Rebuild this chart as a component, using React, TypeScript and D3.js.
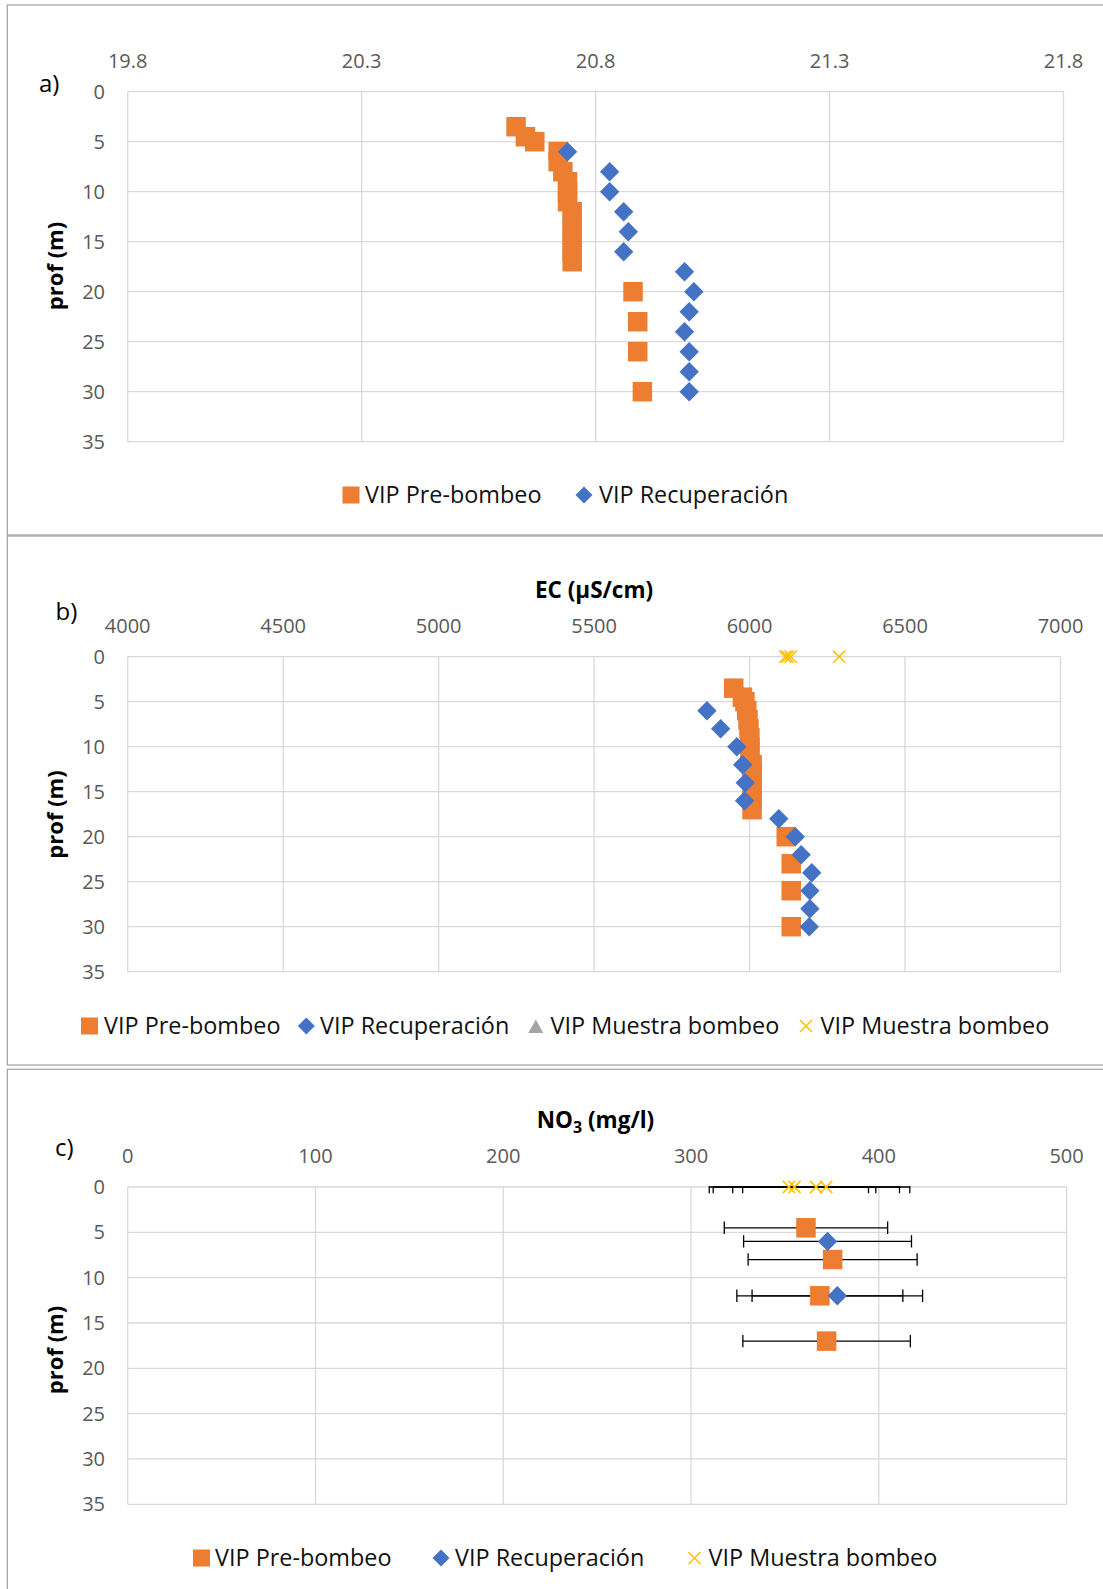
import React from "react";
import * as d3 from "d3";

// ---------- DATA ----------
const depthTicks = [0, 5, 10, 15, 20, 25, 30, 35];

// a) temperature
const tempTicks = [19.8, 20.3, 20.8, 21.3, 21.8];
const tempPreDepth = [3.5, 4.5, 5, 6, 7, 8, 9, 10, 11, 12, 13, 14, 15, 16, 17, 20, 23, 26, 30];
const tempPreValue = [20.63, 20.65, 20.67, 20.72, 20.72, 20.73, 20.74, 20.74, 20.74, 20.75, 20.75, 20.75, 20.75, 20.75, 20.75, 20.88, 20.89, 20.89, 20.9];
const tempRecDepth = [6, 8, 10, 12, 14, 16, 18, 20, 22, 24, 26, 28, 30];
const tempRecValue = [20.74, 20.83, 20.83, 20.86, 20.87, 20.86, 20.99, 21.01, 21.0, 20.99, 21.0, 21.0, 21.0];

// b) electrical conductivity
const ecTicks = [4000, 4500, 5000, 5500, 6000, 6500, 7000];
const ecPreDepth = [3.5, 4.5, 5, 6, 7, 8, 9, 10, 11, 12, 13, 14, 15, 16, 17, 20, 23, 26, 30];
const ecPreValue = [5949, 5977, 5985, 5991, 5995, 5998, 6001, 6001, 6001, 6008, 6008, 6008, 6008, 6008, 6008, 6118, 6134, 6134, 6134];
const ecRecDepth = [6, 8, 10, 12, 14, 16, 18, 20, 22, 24, 26, 28, 30];
const ecRecValue = [5863, 5907, 5959, 5978, 5986, 5984, 6094, 6147, 6166, 6200, 6194, 6194, 6192];
const ecMuesTriDepth: number[] = [];
const ecMuesTriValue: number[] = [];
const ecMuesDepth = [0, 0, 0, 0];
const ecMuesValue = [6115, 6122, 6132, 6288];

// c) nitrate
const no3Ticks = [0, 100, 200, 300, 400, 500];
const no3PreDepth = [4.5, 8, 12, 17];
const no3PreValue = [361.2, 375.4, 368.6, 372.2];
const no3PreErr = [43.5, 45.0, 44.2, 44.6];
const no3RecDepth = [6, 12];
const no3RecValue = [372.7, 377.9];
const no3RecErr = [44.7, 45.4];
const no3MuesDepth = [0, 0, 0, 0];
const no3MuesValue = [352.1, 355.1, 366.6, 372.0];
const no3MuesErr = [42.4, 43.3, 44.4, 44.5];

const legendA = ["VIP Pre-bombeo", "VIP Recuperación"];
const legendB = ["VIP Pre-bombeo", "VIP Recuperación", "VIP Muestra bombeo", "VIP Muestra bombeo"];
const legendC = ["VIP Pre-bombeo", "VIP Recuperación", "VIP Muestra bombeo"];

// ---------- STYLE ----------
const ORANGE = "#ED7D31";
const BLUE = "#4472C4";
const GRAY = "#A5A5A5";
const YELLOW = "#FFC000";
const GRID = "#D9D9D9";
const TICK = "#595959";
const FONT = "'Open Sans', 'Noto Sans', 'DejaVu Sans', sans-serif";

const Square = ({ x, y, s, c }: any) => <rect x={x - s / 2} y={y - s / 2} width={s} height={s} fill={c} />;
const Diamond = ({ x, y, r, c }: any) => (
  <path d={`M${x},${y - r}L${x + r},${y}L${x},${y + r}L${x - r},${y}Z`} fill={c} />
);
const Cross = ({ x, y, r, c }: any) => (
  <path d={`M${x - r},${y - r}L${x + r},${y + r}M${x - r},${y + r}L${x + r},${y - r}`} stroke={c} strokeWidth={1.5} fill="none" />
);
const Triangle = ({ x, y, r, c }: any) => (
  <path d={`M${x},${y - r}L${x + r},${y + r * 0.8}L${x - r},${y + r * 0.8}Z`} fill={c} />
);

function Grid({ xs, ys, xTicks, fmt, xLabY }: any) {
  const [x0, x1] = xs.range();
  const [y0, y1] = ys.range();
  return (
    <g>
      {depthTicks.map((t) => (
        <line key={"h" + t} x1={x0} x2={x1} y1={ys(t)} y2={ys(t)} stroke={GRID} strokeWidth={1.3} />
      ))}
      {xTicks.map((t: number) => (
        <line key={"v" + t} x1={xs(t)} x2={xs(t)} y1={y0} y2={y1} stroke={GRID} strokeWidth={1.3} />
      ))}
      {xTicks.map((t: number) => (
        <text key={"xt" + t} x={xs(t)} y={xLabY} textAnchor="middle" fontSize={20} fill={TICK} fontFamily={FONT}>
          {fmt(t)}
        </text>
      ))}
      {depthTicks.map((t) => (
        <text key={"yt" + t} x={105} y={ys(t) + 7} textAnchor="end" fontSize={20} fill={TICK} fontFamily={FONT}>
          {t}
        </text>
      ))}
    </g>
  );
}

function ProfLabel({ cy }: any) {
  return (
    <text
      transform={`translate(63,${cy}) rotate(-90)`}
      textAnchor="middle"
      fontSize={22}
      fontWeight="bold"
      fontFamily={FONT}
      fill="#000"
    >
      prof (m)
    </text>
  );
}

export default function App() {
  // panel a
  const xa = d3.scaleLinear().domain([19.8, 21.8]).range([127.7, 1063.5]);
  const ya = d3.scaleLinear().domain([0, 35]).range([91.7, 441.7]);
  // panel b
  const xb = d3.scaleLinear().domain([4000, 7000]).range([127.7, 1060.5]);
  const yb = d3.scaleLinear().domain([0, 35]).range([656.7, 971.7]);
  // panel c
  const xc = d3.scaleLinear().domain([0, 500]).range([127.7, 1066.6]);
  const yc = d3.scaleLinear().domain([0, 35]).range([1187, 1504.3]);

  const f1 = d3.format(".1f");
  const f0 = d3.format("d");
  const SQ = 19.5;
  const DR = 9.7;
  const legText = { fontSize: 23.4, fontFamily: FONT, fill: "#111" } as any;

  const errBars = (vals: number[], deps: number[], errs: number[], key: string) =>
    vals.map((v, i) => {
      const y = yc(deps[i]);
      const xl = xc(v - errs[i]);
      const xr = xc(v + errs[i]);
      return (
        <g key={key + i}>
          <line x1={xl} x2={xr} y1={y} y2={y} stroke="#000" strokeWidth={1.3} />
          <line x1={xl} x2={xl} y1={y - 6.2} y2={y + 6.2} stroke="#000" strokeWidth={1.3} />
          <line x1={xr} x2={xr} y1={y - 6.2} y2={y + 6.2} stroke="#000" strokeWidth={1.3} />
        </g>
      );
    });

  return (
    <svg
      width={1103}
      height={1589}
      style={{ position: "absolute", left: 0, top: 0, background: "#fff" }}
      xmlns="http://www.w3.org/2000/svg"
    >
      <rect x={0} y={0} width={1103} height={1589} fill="#fff" />
      <defs>
        <clipPath id="clipC">
          <rect x={127} y={1186} width={940.5} height={320} />
        </clipPath>
      </defs>

      {/* panel frames */}
      <rect x={7.3} y={5} width={1200} height={530} fill="none" stroke="#A6A6A6" strokeWidth={1.3} />
      <rect x={7.3} y={536} width={1200} height={529} fill="none" stroke="#A6A6A6" strokeWidth={1.3} />
      <rect x={7.3} y={1069.3} width={1200} height={700} fill="none" stroke="#A6A6A6" strokeWidth={1.3} />

      {/* ---------- a) ---------- */}
      <text x={39} y={92} fontSize={24} fontFamily={FONT} fill="#000">a)</text>
      <Grid xs={xa} ys={ya} xTicks={tempTicks} fmt={f1} xLabY={68.3} />
      <ProfLabel cy={266} />
      {tempPreValue.map((v, i) => (
        <Square key={"ap" + i} x={xa(v)} y={ya(tempPreDepth[i])} s={SQ} c={ORANGE} />
      ))}
      {tempRecValue.map((v, i) => (
        <Diamond key={"ar" + i} x={xa(v)} y={ya(tempRecDepth[i])} r={DR} c={BLUE} />
      ))}
      <Square x={351} y={495} s={17} c={ORANGE} />
      <text x={365} y={503.3} {...legText}>{legendA[0]}</text>
      <Diamond x={584} y={495} r={8.5} c={BLUE} />
      <text x={599} y={503.3} {...legText}>{legendA[1]}</text>

      {/* ---------- b) ---------- */}
      <text x={55.5} y={620} fontSize={24} fontFamily={FONT} fill="#000">b)</text>
      <text x={594} y={598.3} textAnchor="middle" fontSize={22.5} fontWeight="bold" fontFamily={FONT} fill="#000">
        EC (µS/cm)
      </text>
      <Grid xs={xb} ys={yb} xTicks={ecTicks} fmt={f0} xLabY={632.7} />
      <ProfLabel cy={814.5} />
      {ecPreValue.map((v, i) => (
        <Square key={"bp" + i} x={xb(v)} y={yb(ecPreDepth[i])} s={SQ} c={ORANGE} />
      ))}
      {ecRecValue.map((v, i) => (
        <Diamond key={"br" + i} x={xb(v)} y={yb(ecRecDepth[i])} r={DR} c={BLUE} />
      ))}
      {ecMuesTriValue.map((v, i) => (
        <Triangle key={"bt" + i} x={xb(v)} y={yb(ecMuesTriDepth[i])} r={8} c={GRAY} />
      ))}
      {ecMuesValue.map((v, i) => (
        <Cross key={"bm" + i} x={xb(v)} y={yb(ecMuesDepth[i])} r={6.1} c={YELLOW} />
      ))}
      <Square x={89.5} y={1026} s={17} c={ORANGE} />
      <text x={104} y={1034.3} {...legText}>{legendB[0]}</text>
      <Diamond x={306.3} y={1026} r={8.5} c={BLUE} />
      <text x={320} y={1034.3} {...legText}>{legendB[1]}</text>
      <Triangle x={535.8} y={1027} r={7.5} c={GRAY} />
      <text x={550.5} y={1034.3} {...legText}>{legendB[2]}</text>
      <Cross x={806} y={1026} r={6} c={YELLOW} />
      <text x={820.5} y={1034.3} {...legText}>{legendB[3]}</text>

      {/* ---------- c) ---------- */}
      <text x={55} y={1156} fontSize={24} fontFamily={FONT} fill="#000">c)</text>
      <text x={595.5} y={1127.7} textAnchor="middle" fontSize={22.5} fontWeight="bold" fontFamily={FONT} fill="#000">
        NO
        <tspan fontSize={16} dy={5}>3</tspan>
        <tspan dy={-5}> (mg/l)</tspan>
      </text>
      <Grid xs={xc} ys={yc} xTicks={no3Ticks} fmt={f0} xLabY={1163.3} />
      <ProfLabel cy={1350} />
      <g clipPath="url(#clipC)">
        {errBars(no3PreValue, no3PreDepth, no3PreErr, "ep")}
        {errBars(no3RecValue, no3RecDepth, no3RecErr, "er")}
        {errBars(no3MuesValue, no3MuesDepth, no3MuesErr, "em")}
      </g>
      {no3PreValue.map((v, i) => (
        <Square key={"cp" + i} x={xc(v)} y={yc(no3PreDepth[i])} s={SQ} c={ORANGE} />
      ))}
      {no3RecValue.map((v, i) => (
        <Diamond key={"cr" + i} x={xc(v)} y={yc(no3RecDepth[i])} r={DR} c={BLUE} />
      ))}
      {no3MuesValue.map((v, i) => (
        <Cross key={"cm" + i} x={xc(v)} y={yc(no3MuesDepth[i])} r={6.1} c={YELLOW} />
      ))}
      <Square x={201.5} y={1558} s={17} c={ORANGE} />
      <text x={215} y={1566.3} {...legText}>{legendC[0]}</text>
      <Diamond x={441} y={1558} r={8.5} c={BLUE} />
      <text x={455} y={1566.3} {...legText}>{legendC[1]}</text>
      <Cross x={694.5} y={1558} r={6} c={YELLOW} />
      <text x={708.5} y={1566.3} {...legText}>{legendC[2]}</text>
    </svg>
  );
}
